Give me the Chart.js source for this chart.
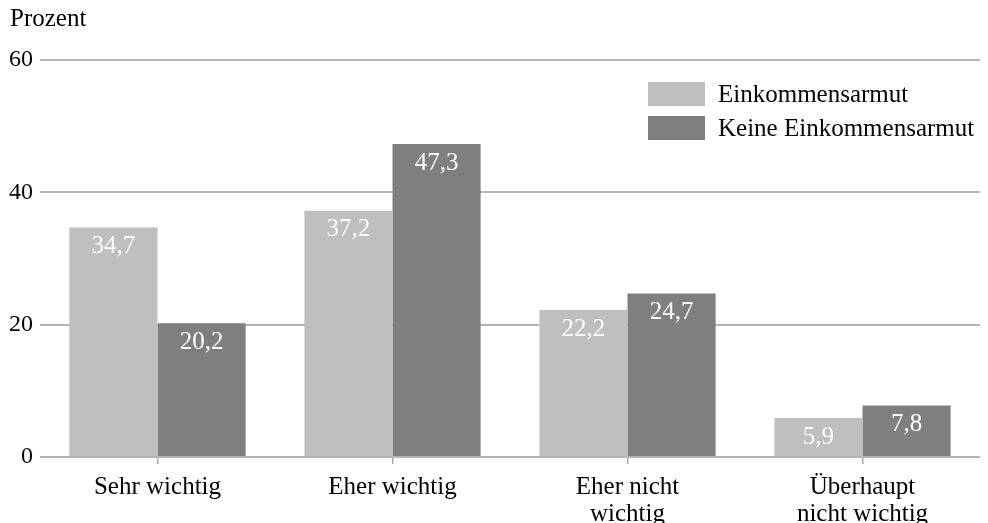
<!DOCTYPE html>
<html>
<head>
<meta charset="utf-8">
<script src="https://cdn.jsdelivr.net/npm/chart.js@4"></script>
<style>
html,body{margin:0;padding:0;background:#fff;}
#wrap{width:988px;height:523px;position:relative;}
</style>
</head>
<body>
<div id="wrap"><canvas id="c" width="988" height="523"></canvas></div>
<script>
const categories = [["Sehr wichtig"], ["Eher wichtig"], ["Eher nicht", "wichtig"], ["Überhaupt", "nicht wichtig"]];
const seriesNames = ["Einkommensarmut", "Keine Einkommensarmut"];
const armut = [34.7, 37.2, 22.2, 5.9];
const keineArmut = [20.2, 47.3, 24.7, 7.8];
const yTicks = [0, 20, 40, 60];
const yAxisTitle = "Prozent";

const FONT = "'Liberation Serif', 'Times New Roman', serif";
const colors = ["#bfbfbf", "#7f7f7f"];

const labelPlugin = {
  id: 'valueLabels',
  afterDatasetsDraw(chart) {
    const ctx = chart.ctx;
    ctx.save();
    ctx.font = "25px " + FONT;
    ctx.fillStyle = "#ffffff";
    ctx.textAlign = "center";
    ctx.textBaseline = "middle";
    chart.data.datasets.forEach((ds, i) => {
      const meta = chart.getDatasetMeta(i);
      meta.data.forEach((bar, j) => {
        const txt = ds.data[j].toFixed(1).replace('.', ',');
        ctx.fillText(txt, bar.x, bar.y + 19);
      });
    });
    ctx.restore();
  }
};

const extrasPlugin = {
  id: 'extras',
  afterDraw(chart) {
    const ctx = chart.ctx;
    ctx.save();
    ctx.font = "25px " + FONT;
    ctx.fillStyle = "#000";
    ctx.textAlign = "left";
    ctx.textBaseline = "middle";
    ctx.fillText(yAxisTitle, 10, 19);
    chart.data.datasets.forEach((ds, i) => {
      const y = 94 + i * 34;
      ctx.fillStyle = ds.backgroundColor;
      ctx.fillRect(648, y - 12, 57, 24);
      ctx.fillStyle = "#000";
      ctx.fillText(ds.label, 718, y + 1);
    });
    ctx.restore();
  }
};

new Chart(document.getElementById('c'), {
  type: 'bar',
  data: {
    labels: categories,
    datasets: [
      { label: seriesNames[0], data: armut, backgroundColor: colors[0], categoryPercentage: 0.75, barPercentage: 1.0 },
      { label: seriesNames[1], data: keineArmut, backgroundColor: colors[1], categoryPercentage: 0.75, barPercentage: 1.0 }
    ]
  },
  options: {
    responsive: false,
    animation: false,
    devicePixelRatio: 1,
    layout: { padding: { left: 2, right: 8, top: 60, bottom: 0 } },
    plugins: { legend: { display: false }, tooltip: { enabled: false } },
    scales: {
      x: {
        afterFit(axis) { axis.height = 66; },
        grid: { display: true, offset: false, drawOnChartArea: false, drawTicks: true, tickLength: 7, color: "#aaaaaa", lineWidth: 1.5 },
        border: { display: false },
        ticks: { color: "#000", font: { family: FONT, size: 25, lineHeight: 1.08 }, padding: 10, maxRotation: 0 }
      },
      y: {
        min: 0, max: 60,
        afterBuildTicks(axis) { axis.ticks = yTicks.map(v => ({ value: v })); },
        grid: { color: "#b4b4b4", lineWidth: 2, drawTicks: false },
        border: { display: false },
        ticks: { color: "#000", font: { family: FONT, size: 24 }, padding: 7 }
      }
    }
  },
  plugins: [labelPlugin, extrasPlugin]
});
</script>
</body>
</html>
